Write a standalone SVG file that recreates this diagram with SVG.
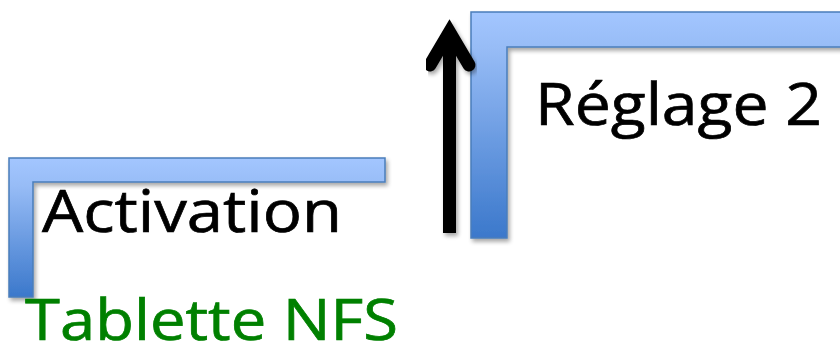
<svg xmlns="http://www.w3.org/2000/svg" width="840" height="356" viewBox="0 0 840 356">
  <defs>
    <linearGradient id="gLeft" gradientUnits="userSpaceOnUse" x1="0" y1="158" x2="0" y2="297">
      <stop offset="0" stop-color="#a3c6ff"/>
      <stop offset="0.2" stop-color="#97bcf6"/>
      <stop offset="1" stop-color="#3b78cb"/>
    </linearGradient>
    <linearGradient id="gRight" gradientUnits="userSpaceOnUse" x1="0" y1="12" x2="0" y2="238">
      <stop offset="0" stop-color="#a3c6ff"/>
      <stop offset="0.16" stop-color="#97bcf6"/>
      <stop offset="1" stop-color="#3b78cb"/>
    </linearGradient>
    <filter id="shadow" x="-10%" y="-10%" width="130%" height="130%">
      <feGaussianBlur in="SourceAlpha" stdDeviation="2"/>
      <feOffset dx="2" dy="3" result="b"/>
      <feComponentTransfer><feFuncA type="linear" slope="0.35"/></feComponentTransfer>
      <feMerge><feMergeNode/><feMergeNode in="SourceGraphic"/></feMerge>
    </filter>
    <filter id="soft" x="-20%" y="-200%" width="140%" height="500%">
      <feGaussianBlur stdDeviation="1.2"/>
    </filter>
  </defs>
  <style>
    .frame { stroke: #4a7ebb; stroke-width: 1.5; stroke-linejoin: miter; filter: url(#shadow); }
    .lbl { font-family: "Open Sans", "Liberation Sans", sans-serif; font-size: 58px; stroke-width: 0.7; }
    .arrow { fill: none; stroke: #000; stroke-width: 13; filter: url(#shadow); }
  </style>

  <line x1="318" y1="84.5" x2="390" y2="84.5" stroke="#dcdcdc" stroke-width="2" filter="url(#soft)"/>

  <g id="node-activation">
    <polygon class="frame" fill="url(#gLeft)" points="9,158 385,158 385,182 33,182 33,297 9,297"/>
    <text class="lbl" x="42" y="232" fill="#000" stroke="#000" textLength="300" lengthAdjust="spacingAndGlyphs">Activation</text>
  </g>

  <g id="node-reglage2">
    <polygon class="frame" fill="url(#gRight)" points="471,12 846,12 846,47 507,47 507,238 471,238"/>
    <text class="lbl" x="535" y="125" fill="#000" stroke="#000" textLength="287" lengthAdjust="spacingAndGlyphs">Réglage 2</text>
  </g>

  <g id="node-tablette">
    <text class="lbl" x="25" y="340" fill="#008000" stroke="#008000" style="font-size:56px" textLength="373" lengthAdjust="spacingAndGlyphs">Tablette NFS</text>
  </g>

  <g id="connectors">
    <g class="arrow">
      <path d="M449.5,233 L449.5,32" stroke-linecap="butt"/>
      <path d="M430,65 L449.5,32 L469,65" stroke-linecap="round" stroke-linejoin="miter"/>
    </g>
  </g>
</svg>
